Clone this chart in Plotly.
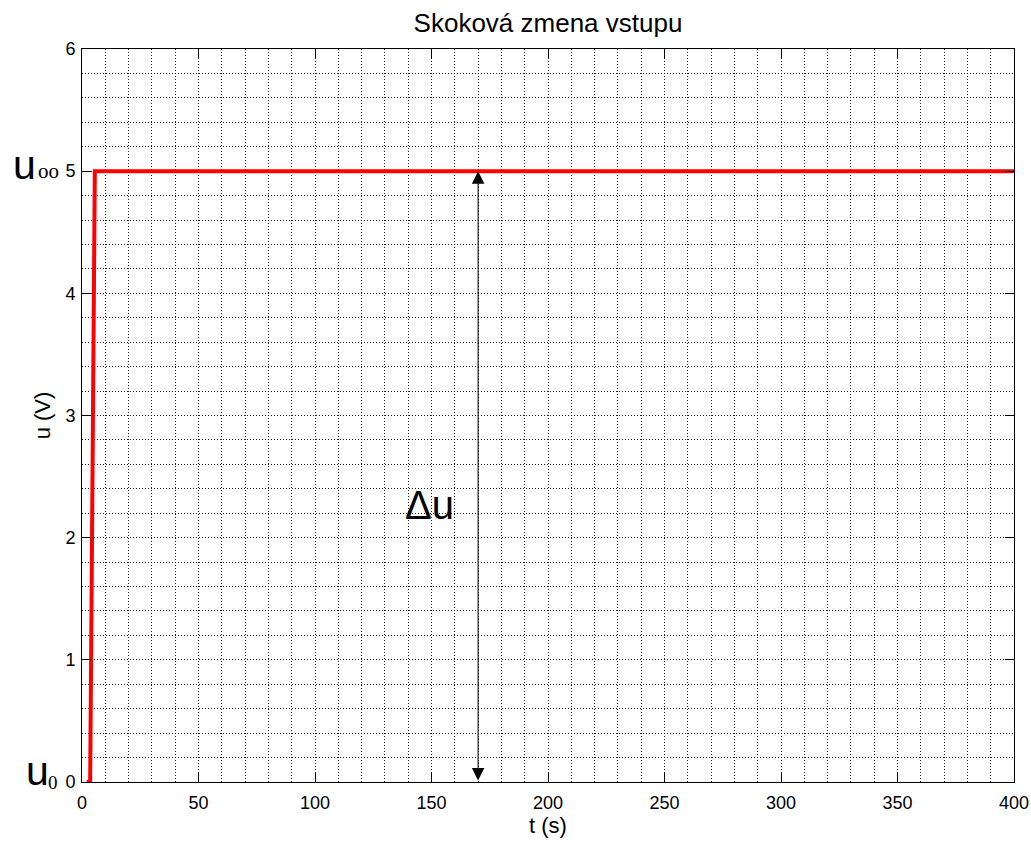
import plotly.graph_objects as go

# Data
t_vals = [2, 3.5, 5.5, 400]
u_vals = [0, 0, 5, 5]
x_ticks = [0, 50, 100, 150, 200, 250, 300, 350, 400]
y_ticks = [0, 1, 2, 3, 4, 5, 6]
arrow_t = 170
u_start = 0
u_end = 5
title_text = "Skoková zmena vstupu"
x_title = "t (s)"
y_title = "u (V)"

W, H = 1031, 841
L, R, T, B = 82, 17, 49, 59
PW = W - L - R

def px(xp):
    return (xp - L) / PW

fig = go.Figure()
fig.add_trace(go.Scatter(x=t_vals, y=u_vals, mode="lines",
                         line=dict(color="#ff0000", width=4), showlegend=False,
                         hoverinfo="skip"))

grid_kw = dict(gridcolor="#222222", gridwidth=1, griddash="1px,2px")
tick_font = dict(family="Liberation Sans, Arial, sans-serif", size=18, color="black")

fig.update_xaxes(range=[0, 400], tickvals=x_ticks, ticks="inside", ticklen=9,
                 tickcolor="black", showline=True, linecolor="black", linewidth=1,
                 mirror="ticks", showgrid=True, zeroline=False, tickfont=tick_font,
                 ticklabelstandoff=4,
                 minor=dict(dtick=10, showgrid=True, ticks="", **grid_kw),
                 title=dict(text=x_title, font=dict(family="Liberation Sans, Arial", size=22, color="black"), standoff=2),
                 **grid_kw)
fig.update_yaxes(range=[0, 6], tickvals=y_ticks, ticks="inside", ticklen=9,
                 tickcolor="black", showline=True, linecolor="black", linewidth=1,
                 mirror="ticks", showgrid=True, zeroline=False, tickfont=tick_font,
                 ticklabelstandoff=2,
                 minor=dict(dtick=0.2, showgrid=True, ticks="", **grid_kw),
                 title=dict(text=y_title, font=dict(family="Liberation Sans, Arial", size=22, color="black"), standoff=8),
                 **grid_kw)

ann = []
# double arrow
ann.append(dict(x=arrow_t, y=u_end, ax=arrow_t, ay=u_start, xref="x", yref="y",
                axref="x", ayref="y", text="", showarrow=True, arrowhead=2,
                arrowsize=2.5, arrowwidth=1, arrowcolor="black", arrowside="end+start",
                startarrowhead=2, startarrowsize=2.5, standoff=0, startstandoff=0))
# delta u label
ann.append(dict(x=149, y=2.27, xref="x", yref="y", text="Δu", showarrow=False,
                font=dict(family="Liberation Sans, Arial", size=40, color="black")))
# u_oo label
ann.append(dict(x=px(24), y=u_end, xref="paper", yref="y", text="u", showarrow=False,
                xanchor="center", yanchor="middle", yshift=6,
                font=dict(family="Liberation Sans, Arial", size=41, color="black")))
ann.append(dict(x=px(48), y=u_end, xref="paper", yref="y", text="oo", showarrow=False,
                xanchor="center", yanchor="middle", yshift=0,
                font=dict(family="Liberation Serif, Times New Roman", size=21, color="black")))
# u_0 label
ann.append(dict(x=px(37), y=u_start, xref="paper", yref="y", text="u", showarrow=False,
                xanchor="center", yanchor="middle", yshift=11,
                font=dict(family="Liberation Sans, Arial", size=41, color="black")))
ann.append(dict(x=px(53), y=u_start, xref="paper", yref="y", text="0", showarrow=False,
                xanchor="center", yanchor="middle", yshift=0,
                font=dict(family="Liberation Serif, Times New Roman", size=19, color="black")))

fig.update_layout(
    width=W, height=H,
    margin=dict(l=L, r=R, t=T, b=B, autoexpand=False),
    paper_bgcolor="white", plot_bgcolor="white",
    title=dict(text=title_text, x=(L + PW / 2) / W, xanchor="center", y=1 - 23 / H, yanchor="middle",
               font=dict(family="Liberation Sans, Arial", size=26, color="black")),
    annotations=ann,
    showlegend=False,
)

fig.write_html("out.html")
